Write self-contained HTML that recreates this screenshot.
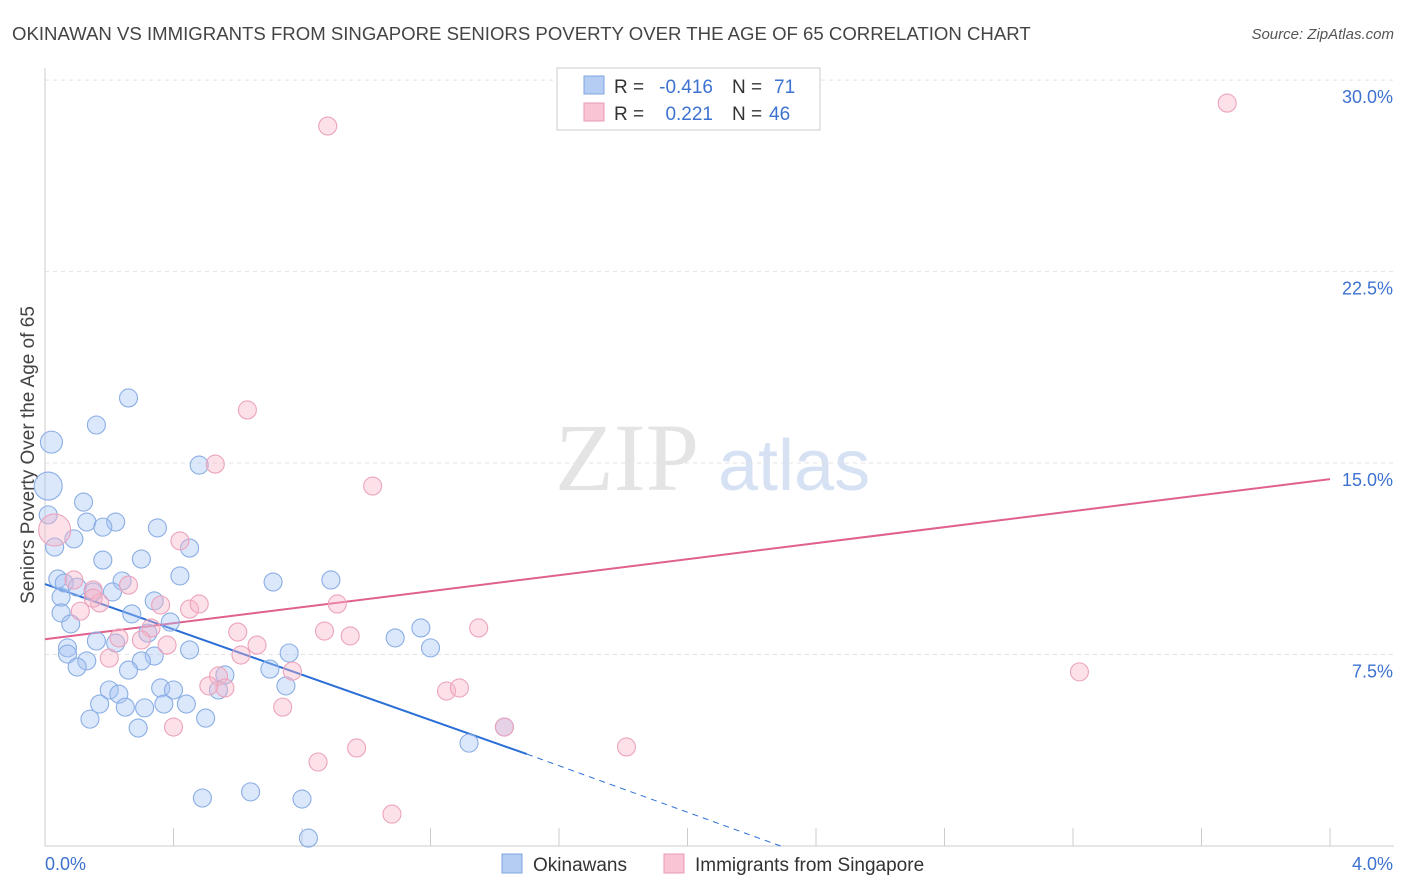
<!DOCTYPE html>
<html><head><meta charset="utf-8">
<style>
body{margin:0;background:#fff;font-family:"Liberation Sans",sans-serif;}
#wrap{position:relative;width:1406px;height:892px;overflow:hidden;}
</style></head>
<body>
<div id="wrap">
<svg id="chart" width="1406" height="892" xmlns="http://www.w3.org/2000/svg">
<text x="12" y="40" font-size="18.6" fill="#444">OKINAWAN VS IMMIGRANTS FROM SINGAPORE SENIORS POVERTY OVER THE AGE OF 65 CORRELATION CHART</text>
<text x="1394" y="39" font-size="15" fill="#555" text-anchor="end" font-style="italic">Source: ZipAtlas.com</text>
<text x="34" y="455" font-size="19" fill="#444" text-anchor="middle" transform="rotate(-90 34 455)">Seniors Poverty Over the Age of 65</text>
<g>
<text x="555" y="490" font-size="96" fill="#e4e4e4" font-family="Liberation Serif,serif">ZIP</text>
<text x="718" y="490" font-size="72" fill="#d6e2f4">atlas</text>
</g>
<g id="grid"></g>
<g id="axes"></g>
<g id="lines"></g>
<g id="pts"></g>
<g>
<rect x="557" y="68" width="263" height="62" fill="#fff" stroke="#ccc"/>
<rect x="584" y="76" width="20" height="18" fill="#b5cdf3" stroke="#7fa5e0"/>
<rect x="584" y="103" width="20" height="18" fill="#f9c4d4" stroke="#e89ab4"/>
<text x="614" y="93" font-size="19" fill="#333">R =</text>
<text x="713" y="93" font-size="19" fill="#3d72d0" text-anchor="end">-0.416</text>
<text x="732" y="93" font-size="19" fill="#333">N =</text>
<text x="774" y="93" font-size="19" fill="#3d72d0">71</text>
<text x="614" y="120" font-size="19" fill="#333">R =</text>
<text x="713" y="120" font-size="19" fill="#3d72d0" text-anchor="end">0.221</text>
<text x="732" y="120" font-size="19" fill="#333">N =</text>
<text x="769" y="120" font-size="19" fill="#3d72d0">46</text>
</g>
<g>
<rect x="502" y="854" width="20" height="19" fill="#b5cdf3" stroke="#7fa5e0"/>
<text x="533" y="871" font-size="19" fill="#333">Okinawans</text>
<rect x="664" y="854" width="20" height="19" fill="#f9c4d4" stroke="#e89ab4"/>
<text x="695" y="871" font-size="19" fill="#333">Immigrants from Singapore</text>
</g>
</svg>
</div>
<script>
const blueX=[0.02,0.01,0.16,0.26,0.12,0.13,0.22,0.18,0.01,0.03,0.09,0.35,0.45,0.18,0.30,0.42,0.24,0.04,0.06,0.10,0.15,0.21,0.05,0.34,0.05,0.27,0.39,0.08,0.32,0.16,0.22,0.07,0.45,0.07,0.34,0.30,0.13,0.10,0.26,0.70,0.76,0.75,0.56,0.20,0.36,0.40,0.23,0.54,0.17,0.25,0.31,0.37,0.44,0.14,0.50,0.29,0.48,0.71,0.89,1.09,1.17,1.20,1.43,1.32,0.49,0.64,0.80,0.82];
const blueY=[15.82,14.10,16.49,17.55,13.47,12.69,12.69,12.49,12.97,11.71,12.03,12.46,11.67,11.20,11.24,10.58,10.38,10.46,10.30,10.14,9.95,9.95,9.75,9.60,9.13,9.09,8.77,8.70,8.34,8.03,7.95,7.76,7.68,7.52,7.44,7.25,7.25,7.01,6.89,6.93,7.56,6.27,6.70,6.11,6.19,6.11,5.95,6.11,5.56,5.44,5.41,5.56,5.56,4.97,5.01,4.62,14.92,10.34,10.42,8.15,8.54,7.76,4.66,4.03,1.88,2.12,1.84,0.31];
const blueR=[11,14,9,9,9,9,9,9,9,9,9,9,9,9,9,9,9,9,9,9,9,9,9,9,9,9,9,9,9,9,9,9,9,9,9,9,9,9,9,9,9,9,9,9,9,9,9,9,9,9,9,9,9,9,9,9,9,9,9,9,9,9,9,9,9,9,9,9];
const pinkX=[0.88,3.68,0.63,0.53,1.02,0.03,0.42,0.09,0.26,0.15,0.17,0.11,0.36,0.45,0.48,0.91,0.15,0.33,0.60,0.23,0.38,0.66,0.95,0.87,1.35,0.61,0.20,0.77,0.54,0.56,0.51,0.74,1.25,1.29,0.40,0.97,1.81,1.43,0.85,1.08,3.22,0.30];
const pinkY=[28.20,29.10,17.08,14.96,14.10,12.38,11.95,10.42,10.22,10.03,9.52,9.20,9.44,9.28,9.48,9.48,9.71,8.54,8.38,8.15,7.87,7.87,8.23,8.42,8.54,7.48,7.36,6.85,6.66,6.19,6.27,5.44,6.07,6.19,4.66,3.84,3.88,4.66,3.29,1.25,6.82,8.07];
const pinkR=[9,9,9,9,9,16,9,9,9,9,9,9,9,9,9,9,9,9,9,9,9,9,9,9,9,9,9,9,9,9,9,9,9,9,9,9,9,9,9,9,9,9];
const yTicks=[7.5,15.0,22.5,30.0];
const yTickLabels=["7.5%","15.0%","22.5%","30.0%"];
const xTicks=[0,0.4,0.8,1.2,1.6,2.0,2.4,2.8,3.2,3.6,4.0];
const blueTrend=[[0,10.26],[1.5,3.60],[2.29,0]];
const pinkTrend=[[0,8.1],[4.0,14.37]];

const NS="http://www.w3.org/2000/svg";
const sx=v=>45+v*321.25;
const sy=v=>846-v*25.53;
function mk(tag,attrs,parent){const e=document.createElementNS(NS,tag);for(const k in attrs)e.setAttribute(k,attrs[k]);document.getElementById(parent).appendChild(e);return e;}

yTicks.forEach((t,i)=>{
  const g=mk('line',{x1:45,x2:1394,y1:sy(t),y2:sy(t),stroke:'#e3e3e3','stroke-dasharray':'4,4'},'grid');
  
  
  const l=mk('text',{x:1393,y:sy(t)+23,'font-size':18,fill:'#3d72d0','text-anchor':'end'},'axes');
  l.textContent=yTickLabels[i];
  
  
});
const ax=mk('line',{x1:45,x2:45,y1:68,y2:846,stroke:'#ccc'},'axes');


const bx=mk('line',{x1:45,x2:1394,y1:846,y2:846,stroke:'#ccc'},'axes');


xTicks.forEach(t=>{
  const tk=mk('line',{x1:sx(t),x2:sx(t),y1:828,y2:846,stroke:'#ccc'},'axes');
  
  
});
const xl0=mk('text',{x:45,y:870,'font-size':18,fill:'#3d72d0'},'axes');xl0.textContent=xTicks[0].toFixed(1)+'%';


const xl1=mk('text',{x:1393,y:870,'font-size':18,fill:'#3d72d0','text-anchor':'end'},'axes');xl1.textContent=xTicks[xTicks.length-1].toFixed(1)+'%';



function drawPts(X,Y,R,fill,stroke,name){
  X.forEach((x,i)=>{
    const c=mk('circle',{cx:sx(x),cy:sy(Y[i]),r:R[i],fill:fill,stroke:stroke,'stroke-width':1.1},'pts');
    
    
  });
}
drawPts(blueX,blueY,blueR,'rgba(164,194,244,0.4)','#8aaee4','okinawan-point');
drawPts(pinkX,pinkY,pinkR,'rgba(248,180,200,0.4)','#eca3bc','singapore-point');

const b1=mk('line',{x1:sx(blueTrend[0][0]),y1:sy(blueTrend[0][1]),x2:sx(blueTrend[1][0]),y2:sy(blueTrend[1][1]),stroke:'#2b6fd6','stroke-width':2},'lines');


const b2=mk('line',{x1:sx(blueTrend[1][0]),y1:sy(blueTrend[1][1]),x2:sx(blueTrend[2][0]),y2:sy(blueTrend[2][1]),stroke:'#2b6fd6','stroke-width':1,'stroke-dasharray':'6,5'},'lines');


const p1=mk('line',{x1:sx(pinkTrend[0][0]),y1:sy(pinkTrend[0][1]),x2:sx(pinkTrend[1][0]),y2:sy(pinkTrend[1][1]),stroke:'#e0608f','stroke-width':2},'lines');


</script>
</body></html>
